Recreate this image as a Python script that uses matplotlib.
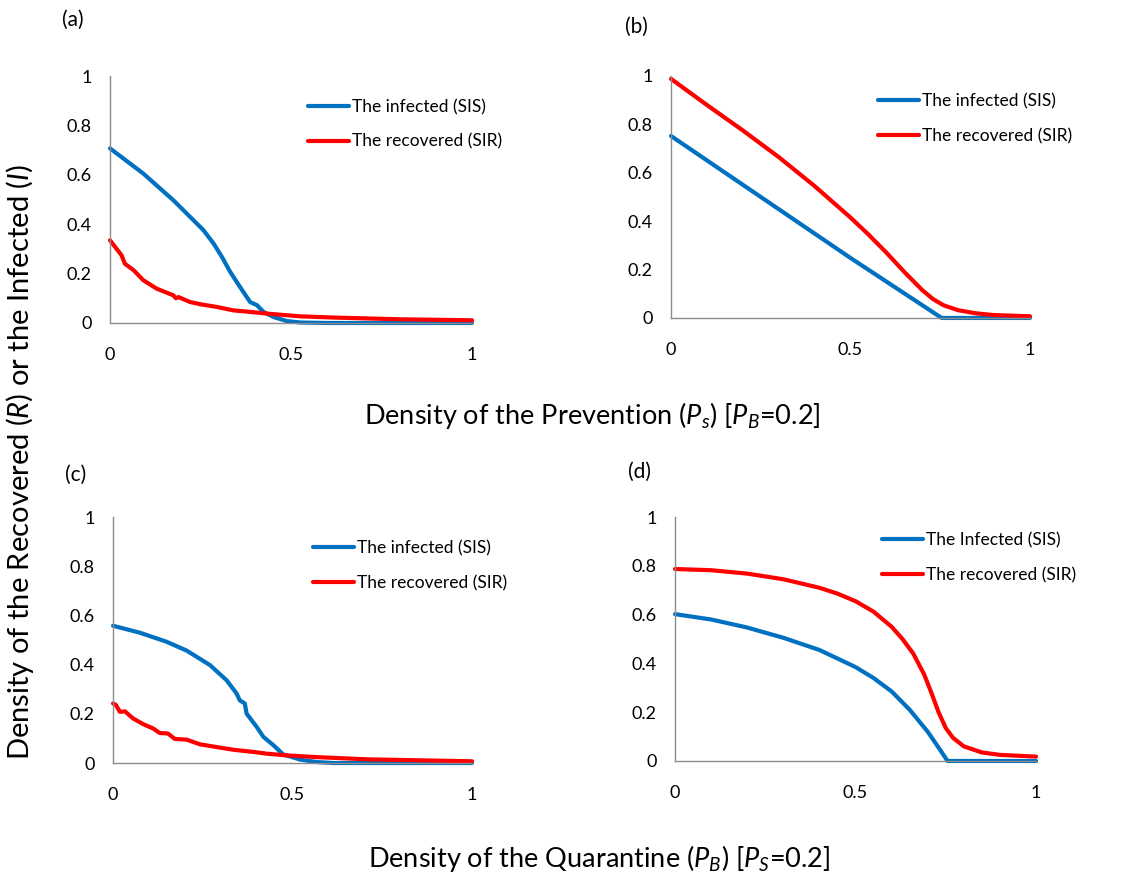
import matplotlib
matplotlib.use("Agg")
import matplotlib.pyplot as plt

plt.rcParams['font.family'] = ['Lato', 'DejaVu Sans']
plt.rcParams['mathtext.fontset'] = 'custom'
plt.rcParams['mathtext.rm'] = 'Lato'
plt.rcParams['mathtext.it'] = 'Lato:italic'

BLUE = '#0070C0'
RED = '#FF0000'

# (a) prevention density, SIS infected
a_inf_x = [0, 0.092, 0.175, 0.258, 0.286, 0.309, 0.332, 0.359, 0.387, 0.406, 0.424, 0.452, 0.488, 0.525, 0.6, 0.8, 1.0]
a_inf_y = [0.707, 0.605, 0.497, 0.376, 0.322, 0.268, 0.207, 0.146, 0.085, 0.072, 0.045, 0.024, 0.008, 0.002, 0.0, 0.0, 0.0]
# (a) SIR recovered
a_rec_x = [0, 0.014, 0.032, 0.041, 0.065, 0.092, 0.129, 0.175, 0.182, 0.189, 0.221, 0.249, 0.295, 0.341, 0.387, 0.433, 0.525, 0.618, 0.8, 1.0]
a_rec_y = [0.335, 0.308, 0.274, 0.240, 0.214, 0.173, 0.139, 0.112, 0.100, 0.105, 0.085, 0.076, 0.065, 0.051, 0.045, 0.038, 0.027, 0.022, 0.015, 0.011]

# (b)
b_inf_x = [0, 0.25, 0.5, 0.754, 1.0]
b_inf_y = [0.752, 0.50, 0.248, 0.0, 0.0]
b_rec_x = [0, 0.1, 0.2, 0.3, 0.4, 0.5, 0.55, 0.6, 0.65, 0.7, 0.73, 0.76, 0.8, 0.85, 0.9, 1.0]
b_rec_y = [0.988, 0.88, 0.775, 0.665, 0.545, 0.415, 0.345, 0.27, 0.19, 0.115, 0.078, 0.052, 0.032, 0.019, 0.012, 0.007]

# (c) quarantine density
c_inf_x = [0, 0.074, 0.149, 0.205, 0.27, 0.316, 0.344, 0.353, 0.367, 0.372, 0.4, 0.419, 0.447, 0.474, 0.521, 0.567, 0.614, 0.8, 1.0]
c_inf_y = [0.558, 0.53, 0.493, 0.457, 0.398, 0.337, 0.283, 0.255, 0.242, 0.201, 0.147, 0.106, 0.072, 0.035, 0.014, 0.004, 0.0, 0.0, 0.0]
c_rec_x = [0, 0.008, 0.019, 0.033, 0.056, 0.084, 0.112, 0.13, 0.153, 0.172, 0.205, 0.242, 0.288, 0.335, 0.391, 0.428, 0.484, 0.567, 0.707, 1.0]
c_rec_y = [0.242, 0.236, 0.208, 0.21, 0.181, 0.158, 0.14, 0.122, 0.12, 0.098, 0.095, 0.076, 0.065, 0.054, 0.045, 0.038, 0.031, 0.024, 0.015, 0.007]

# (d)
d_inf_x = [0, 0.1, 0.2, 0.3, 0.4, 0.5, 0.55, 0.6, 0.65, 0.7, 0.73, 0.755, 1.0]
d_inf_y = [0.602, 0.58, 0.547, 0.505, 0.455, 0.385, 0.34, 0.285, 0.21, 0.12, 0.055, 0.0, 0.0]
d_rec_x = [0, 0.1, 0.2, 0.3, 0.4, 0.45, 0.5, 0.55, 0.6, 0.63, 0.66, 0.69, 0.71, 0.73, 0.75, 0.77, 0.8, 0.85, 0.9, 1.0]
d_rec_y = [0.787, 0.782, 0.768, 0.745, 0.71, 0.686, 0.655, 0.612, 0.55, 0.5, 0.44, 0.355, 0.28, 0.2, 0.135, 0.095, 0.06, 0.035, 0.025, 0.018]

panels = [
    ("(a)", [0.0977, 0.6338, 0.3215, 0.2800], a_inf_x, a_inf_y, a_rec_x, a_rec_y,
     "The infected (SIS)", (0.547, 0.804), (62, 20)),
    ("(b)", [0.5959, 0.6395, 0.3188, 0.2744], b_inf_x, b_inf_y, b_rec_x, b_rec_y,
     "The infected (SIS)", (0.577, 0.824), (625, 27)),
    ("(c)", [0.1004, 0.1349, 0.3188, 0.2789], c_inf_x, c_inf_y, c_rec_x, c_rec_y,
     "The infected (SIS)", (0.557, 0.803), (65, 475)),
    ("(d)", [0.5995, 0.1372, 0.3206, 0.2766], d_inf_x, d_inf_y, d_rec_x, d_rec_y,
     "The Infected (SIS)", (0.573, 0.834), (628, 472)),
]

W, H = 1126, 882
fig = plt.figure(figsize=(W / 100, H / 100), dpi=100)

for tag, rect, ix, iy, rx, ry, inf_label, leg_pos, tag_pos in panels:
    ax = fig.add_axes(rect)
    ax.plot(ix, iy, color=BLUE, lw=3, label=inf_label, clip_on=False, solid_capstyle='round')
    ax.plot(rx, ry, color=RED, lw=3, label="The recovered (SIR)", clip_on=False, solid_capstyle='round')
    ax.set_xlim(0, 1)
    ax.set_ylim(0, 1)
    ax.set_xticks([0, 0.5, 1])
    ax.set_xticklabels(["0", "0.5", "1"])
    ax.set_yticks([0, 0.2, 0.4, 0.6, 0.8, 1])
    ax.set_yticklabels(["0", "0.2", "0.4", "0.6", "0.8", "1"])
    ax.tick_params(axis='both', length=0, labelsize=13, colors='black')
    ax.tick_params(axis='x', pad=17)
    ax.tick_params(axis='y', pad=13)
    for s in ['top', 'right']:
        ax.spines[s].set_visible(False)
    for s in ['left', 'bottom']:
        ax.spines[s].set_color('#8c8c8c')
        ax.spines[s].set_linewidth(1)
    ax.legend(loc='center left', bbox_to_anchor=leg_pos, frameon=False,
              fontsize=12.5, handlelength=2.35, handletextpad=0.2,
              labelspacing=1.08, borderpad=0, borderaxespad=0)
    fig.text(tag_pos[0] / W, 1 - tag_pos[1] / H, tag, fontsize=15, ha='left', va='center')

fig.text(592 / W, 1 - 415 / H, r"Density of the Prevention ($\mathit{P_s}$) [$\mathit{P_B}$=0.2]",
         fontsize=19.5, ha='center', va='center')
fig.text(599 / W, 1 - 858 / H, r"Density of the Quarantine ($\mathit{P_B}$) [$\mathit{P_S}$=0.2]",
         fontsize=19.5, ha='center', va='center')
fig.text(20 / W, 1 - 462 / H, r"Density of the Recovered ($\mathit{R}$) or the Infected ($\mathit{I}$)",
         fontsize=21, ha='center', va='center', rotation=90)

fig.savefig("out.png", dpi=100)
